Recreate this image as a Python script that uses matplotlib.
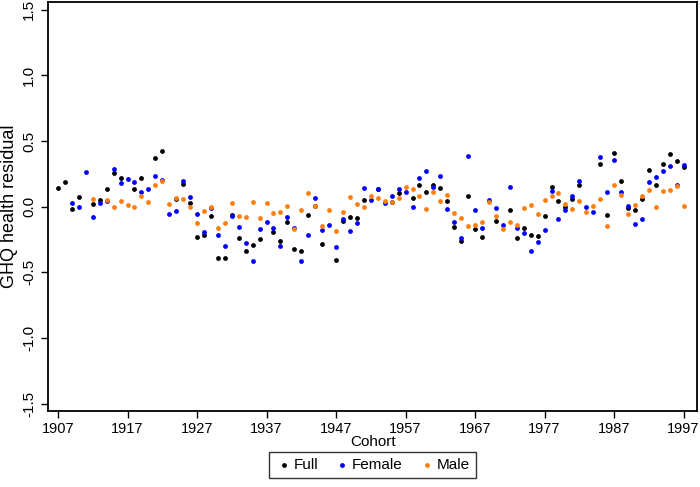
import matplotlib
matplotlib.use("Agg")
import matplotlib.pyplot as plt
import numpy as np

nan = np.nan
years = np.arange(1907, 1998)

full = [0.14, 0.19, -0.02, 0.07, nan, 0.02, 0.05, 0.135, 0.257, 0.22,
        nan, 0.135, 0.216, nan, 0.373, 0.427, nan, 0.056, 0.173, 0.026,
        -0.231, -0.218, -0.071, -0.39, -0.39, -0.063, -0.238, -0.335, -0.292, -0.246,
        nan, -0.193, -0.261, -0.117, -0.32, -0.335, -0.066, 0.005, -0.287, nan,
        -0.406, -0.109, -0.076, -0.089, 0.053, nan, 0.135, nan, 0.033, 0.104,
        nan, 0.066, 0.168, 0.11, 0.163, 0.142, 0.046, -0.155, -0.264, 0.079,
        -0.172, -0.231, nan, -0.107, nan, -0.023, -0.236, -0.16, -0.216, -0.221,
        -0.071, 0.15, 0.041, -0.005, 0.061, 0.165, nan, nan, 0.323, -0.063,
        0.406, 0.198, -0.008, -0.028, 0.061, 0.277, 0.168, 0.323, 0.399, 0.348,
        0.30]

female = [nan, nan, 0.03, 0.0, 0.26, -0.08, 0.03, 0.04, 0.29, 0.18,
          0.21, 0.19, 0.11, 0.137, 0.234, 0.203, -0.06, -0.03, 0.198, 0.074,
          -0.056, -0.19, -0.012, -0.218, -0.297, -0.071, -0.157, -0.274, -0.416, -0.17,
          -0.12, -0.162, -0.297, -0.076, -0.165, -0.416, -0.218, 0.069, -0.18, -0.137,
          -0.305, -0.094, -0.185, -0.127, 0.145, 0.051, 0.132, 0.026, 0.081, 0.135,
          0.11, 0.0, 0.219, 0.272, 0.148, 0.231, -0.015, -0.119, -0.238, 0.389,
          -0.023, -0.165, 0.053, -0.012, -0.139, 0.148, -0.16, -0.198, -0.34, -0.271,
          -0.177, 0.117, -0.091, -0.025, 0.079, 0.193, 0.0, -0.043, 0.376, 0.112,
          0.358, 0.112, 0.005, -0.129, -0.096, 0.186, 0.226, 0.272, 0.308, 0.168,
          0.32]

male = [nan, nan, nan, nan, nan, 0.06, nan, 0.05, 0.0, 0.04,
        0.01, 0.0, 0.08, 0.033, 0.165, 0.196, 0.023, 0.064, 0.056, 0.0,
        -0.122, -0.033, 0.0, -0.162, -0.124, 0.03, -0.068, -0.078, 0.033, -0.086,
        0.026, -0.048, -0.038, 0.003, -0.172, -0.023, 0.107, 0.005, -0.147, -0.025,
        -0.183, -0.038, 0.071, 0.02, -0.005, 0.079, 0.066, 0.041, 0.036, 0.064,
        0.152, 0.132, 0.084, -0.015, 0.112, 0.046, 0.089, -0.048, -0.089, -0.145,
        -0.139, -0.114, 0.036, -0.073, -0.168, -0.114, -0.139, -0.008, 0.01, -0.056,
        0.049, 0.079, 0.102, 0.023, -0.018, 0.041, -0.038, 0.003, 0.056, -0.147,
        0.168, 0.091, -0.053, 0.015, 0.081, 0.125, 0.0, 0.122, 0.127, 0.155,
        0.008]

x_ticks = list(range(1907, 1998, 10))
y_ticks = [-1.5, -1.0, -0.5, 0.0, 0.5, 1.0, 1.5]

plt.rcParams["font.family"] = ["Liberation Sans", "DejaVu Sans"]

fig = plt.figure(figsize=(7.0, 4.87), dpi=100)
ax = fig.add_axes([0.0686, 0.156, 0.9274, 0.840])

ax.scatter(years, full, s=12, color="black", linewidths=0, label="Full", zorder=3)
ax.scatter(years, female, s=12, color="#0000ff", linewidths=0, label="Female", zorder=3)
ax.scatter(years, male, s=12, color="#ff7f0e", linewidths=0, label="Male", zorder=3)

ax.set_xlim(1905.56, 1998.96)
ax.set_ylim(-1.557, 1.559)
ax.set_xticks(x_ticks)
ax.set_xticklabels([str(v) for v in x_ticks], fontsize=10.5)
ax.set_yticks(y_ticks)
ax.set_yticklabels([f"{v:.1f}" for v in y_ticks], rotation=90, va="center", fontsize=11)
ax.tick_params(axis="both", direction="out", length=5, width=1, color="black")
ax.tick_params(axis="x", pad=3)
for s in ax.spines.values():
    s.set_linewidth(1.3)
    s.set_color("black")

ax.set_xlabel("Cohort", fontsize=11, labelpad=-1)
ax.set_ylabel("GHQ health residual", fontsize=13, labelpad=3)

leg = ax.legend(loc="center", bbox_to_anchor=(0.5, -0.132), ncol=3, frameon=True,
                fancybox=False, edgecolor="black", markerscale=1.0,
                prop={"size": 11},
                handletextpad=0.1, columnspacing=1.0, borderpad=0.4, handlelength=1.1)
leg.get_frame().set_linewidth(1.0)

fig.savefig("out.png", dpi=100, facecolor="white")
plt.close(fig)
